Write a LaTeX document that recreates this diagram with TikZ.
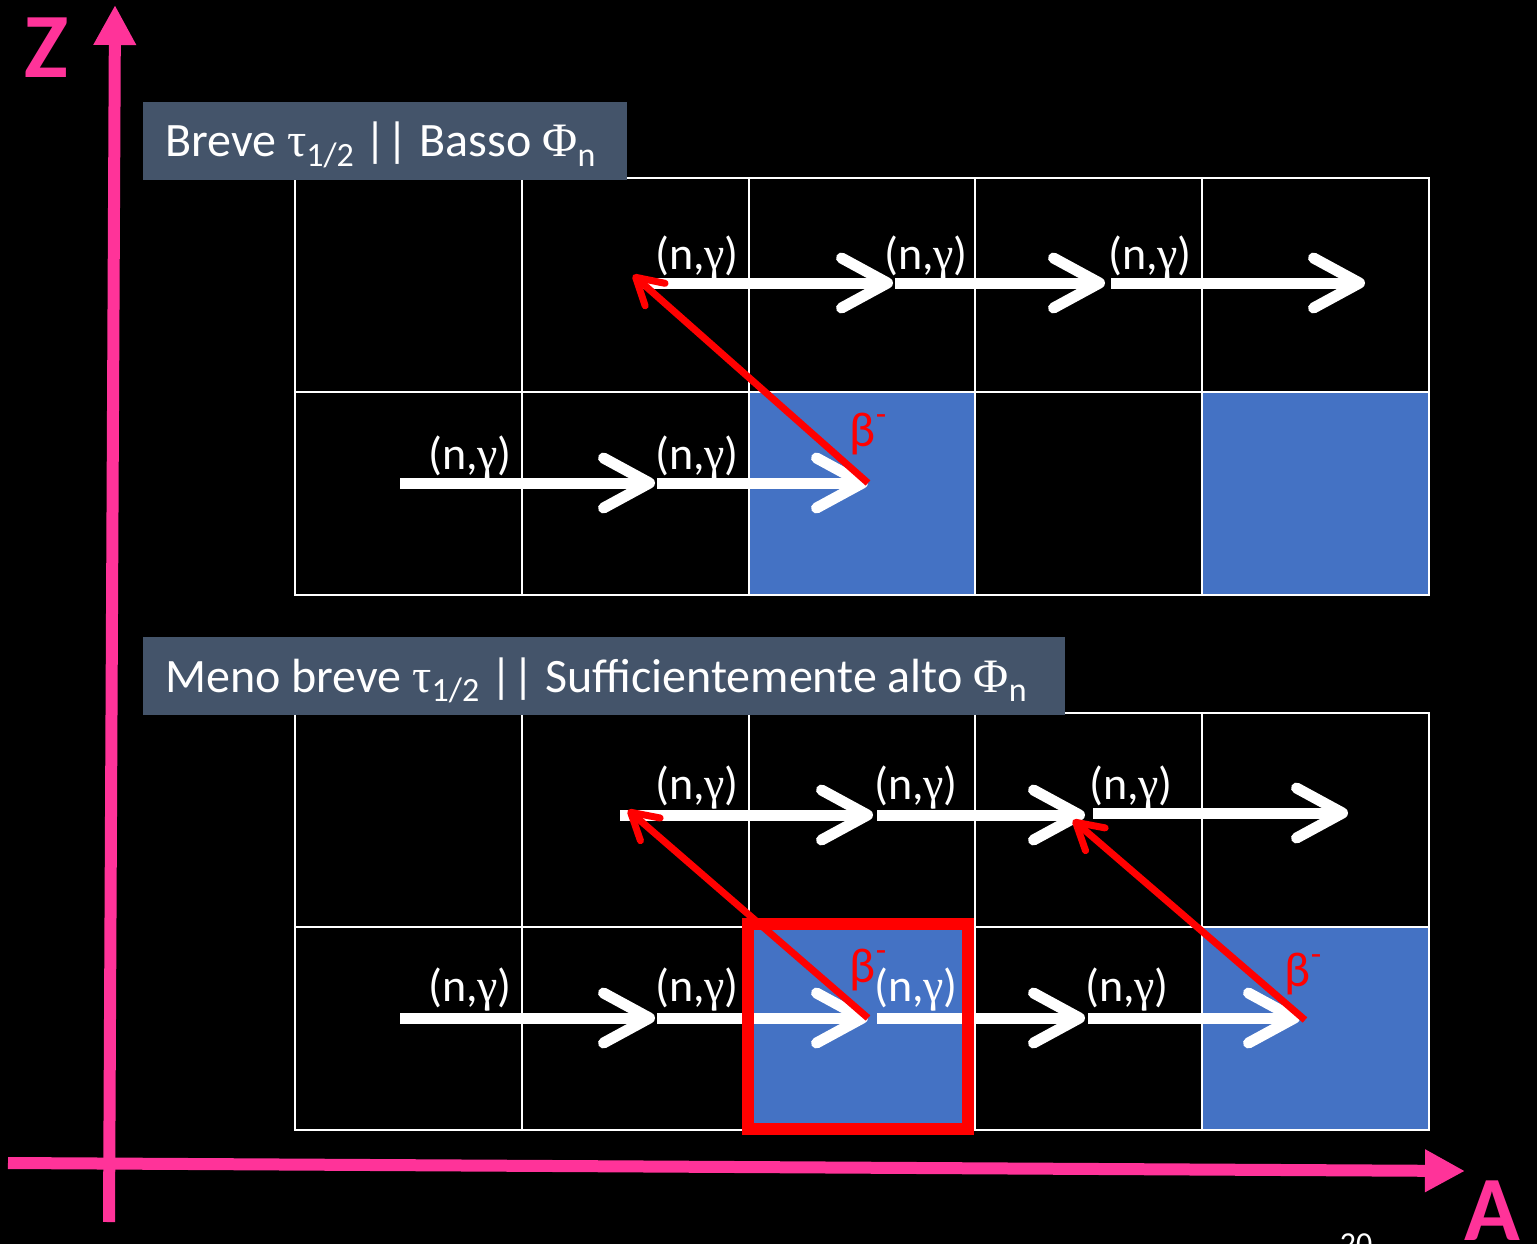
\documentclass[tikz,border=0pt]{standalone}
\usepackage{fontspec}
\setmainfont{Carlito}
\newfontfamily\gkfont{Liberation Serif}
\usetikzlibrary{arrows.meta}
\definecolor{pinkax}{HTML}{FF3399}
\definecolor{cellblue}{HTML}{4472C4}
\definecolor{hdrcol}{HTML}{44546A}
\definecolor{redb}{HTML}{FF0000}
\newcommand{\lowidx}[1]{\raisebox{-0.2em}{\fontsize{34}{34}\selectfont #1}}
\newcommand{\ngam}{(n,{\gkfont γ})}
\newcommand{\bminus}{β\raisebox{0.42em}{\fontsize{34}{34}\selectfont -}}
\tikzset{
  cellbox/.style={draw=white, line width=2pt, minimum width=226.8pt, inner sep=0pt, outer sep=0pt, anchor=north west},
  hdrbox/.style={fill=hdrcol, inner sep=0pt, outer sep=0pt, anchor=north west},
  hdrtxt/.style={text=white, font=\fontsize{48}{48}\selectfont, inner sep=0pt, anchor=base west},
  lbl/.style={text=white, font=\fontsize{46}{46}\selectfont, inner sep=0pt, anchor=base},
  blbl/.style={text=redb, font=\fontsize{49}{49}\selectfont, inner sep=0pt, anchor=base},
  axlbl/.style={text=pinkax, font=\fontsize{92}{92}\selectfont\bfseries, inner sep=0pt, anchor=base},
  wa/.style={white, line width=11pt, -{Straight Barb[length=46pt,width=50pt,round]}},
  ra/.style={redb, line width=7pt, -{Straight Barb[length=26pt,width=30pt,round]}},
  axis/.style={pinkax, line width=12pt, -{Triangle[length=40pt,width=40pt]}}
}
\begin{document}
\begin{tikzpicture}[x=1pt,y=-1pt]
\fill[black] (0,0) rectangle (1537,1244);
\useasboundingbox (0,0) rectangle (1537,1244);

% axes
\coordinate (yb) at (109,1222);
\coordinate (yt) at (115,5);
\coordinate (xl) at (8,1163);
\coordinate (xr) at (1465,1171);
\draw[axis] (yb) -- (yt);
\draw[axis] (xl) -- (xr);
\node[axlbl] (zlab) at (46,78) {Z};
\node[axlbl] (alab) at (1492,1240) {A};
\node[text=white, font=\fontsize{32}{32}\selectfont, inner sep=0pt, anchor=base] (pnum) at (1356,1254) {20};

% grids
\foreach \i in {1,...,5}{
  \node[cellbox, minimum height=214pt] (TA\i) at ({295+226.8*(\i-1)},178) {};
  \node[cellbox, minimum height=203pt] (TB\i) at ({295+226.8*(\i-1)},392) {};
  \node[cellbox, minimum height=214pt] (BA\i) at ({295+226.8*(\i-1)},713) {};
  \node[cellbox, minimum height=203pt] (BB\i) at ({295+226.8*(\i-1)},927) {};
}
\node[cellbox, fill=cellblue, minimum height=203pt] (TB3b) at (748.6,392) {};
\node[cellbox, fill=cellblue, minimum height=203pt] (TB5b) at (1202.2,392) {};
\node[cellbox, fill=cellblue, minimum height=203pt] (BB3b) at (748.6,927) {};
\node[cellbox, fill=cellblue, minimum height=203pt] (BB5b) at (1202.2,927) {};

% headers
\node[hdrbox, minimum width=484pt, minimum height=78pt] (h1) at (143,102) {};
\node[hdrtxt] (h1t) at (165,157) {Breve {\gkfont τ}\lowidx{1/2} || Basso {\gkfont Φ}\lowidx{n}};
\node[hdrbox, minimum width=922pt, minimum height=78pt] (h2) at (143,637) {};
\node[hdrtxt] (h2t) at (165,692) {Meno breve {\gkfont τ}\lowidx{1/2} || Sufficientemente alto {\gkfont Φ}\lowidx{n}};

% top arrows
\coordinate (p1) at (637,283); \coordinate (p2) at (893,283);
\coordinate (p3) at (895,283); \coordinate (p4) at (1105,283);
\coordinate (p5) at (1111,283); \coordinate (p6) at (1365,283);
\coordinate (q1) at (400,483); \coordinate (q2) at (655,483);
\coordinate (q3) at (657,483); \coordinate (q4) at (868,483);
\draw[wa] (p1) -- (p2);
\draw[wa] (p3) -- (p4);
\draw[wa] (p5) -- (p6);
\draw[wa] (q1) -- (q2);
\draw[wa] (q3) -- (q4);

% bottom arrows
\coordinate (r1) at (620,815); \coordinate (r2) at (873,815);
\coordinate (r3) at (877,815); \coordinate (r4) at (1085,815);
\coordinate (r5) at (1093,813); \coordinate (r6) at (1348,813);
\coordinate (s1) at (400,1018); \coordinate (s2) at (655,1018);
\coordinate (s3) at (657,1018); \coordinate (s4) at (868,1018);
\coordinate (s5) at (877,1018); \coordinate (s6) at (1085,1018);
\coordinate (s7) at (1088,1018); \coordinate (s8) at (1300,1018);
\draw[wa] (r1) -- (r2);
\draw[wa] (r3) -- (r4);
\draw[wa] (r5) -- (r6);
\draw[wa] (s1) -- (s2);
\draw[wa] (s3) -- (s4);
\draw[wa] (s5) -- (s6);
\draw[wa] (s7) -- (s8);

% highlight box
\node[draw=redb, line width=12pt, inner sep=0pt, outer sep=0pt, anchor=north west, minimum width=220pt, minimum height=205pt] (hl) at (748,924) {};

% red decay arrows
\coordinate (d1) at (868,483); \coordinate (d2) at (633,275);
\coordinate (e1) at (868,1018); \coordinate (e2) at (628,810);
\coordinate (f1) at (1305,1020); \coordinate (f2) at (1073,820);
\draw[ra] (d1) -- (d2);
\draw[ra] (e1) -- (e2);
\draw[ra] (f1) -- (f2);

% labels
\node[lbl] (lt1) at (697,269) {\ngam};
\node[lbl] (lt2) at (926,269) {\ngam};
\node[lbl] (lt3) at (1150,269) {\ngam};
\node[lbl] (lt4) at (470,469) {\ngam};
\node[lbl] (lt5) at (697,469) {\ngam};
\node[lbl] (lb1) at (697,799) {\ngam};
\node[lbl] (lb2) at (916,799) {\ngam};
\node[lbl] (lb3) at (1131,799) {\ngam};
\node[lbl] (lb4) at (470,1001) {\ngam};
\node[lbl] (lb5) at (697,1001) {\ngam};
\node[lbl] (lb6) at (916,1001) {\ngam};
\node[lbl] (lb7) at (1127,1001) {\ngam};
\node[blbl] (bt1) at (868,446) {\bminus};
\node[blbl] (bb1) at (868,982) {\bminus};
\node[blbl] (bb2) at (1303,986) {\bminus};
\end{tikzpicture}
\end{document}
